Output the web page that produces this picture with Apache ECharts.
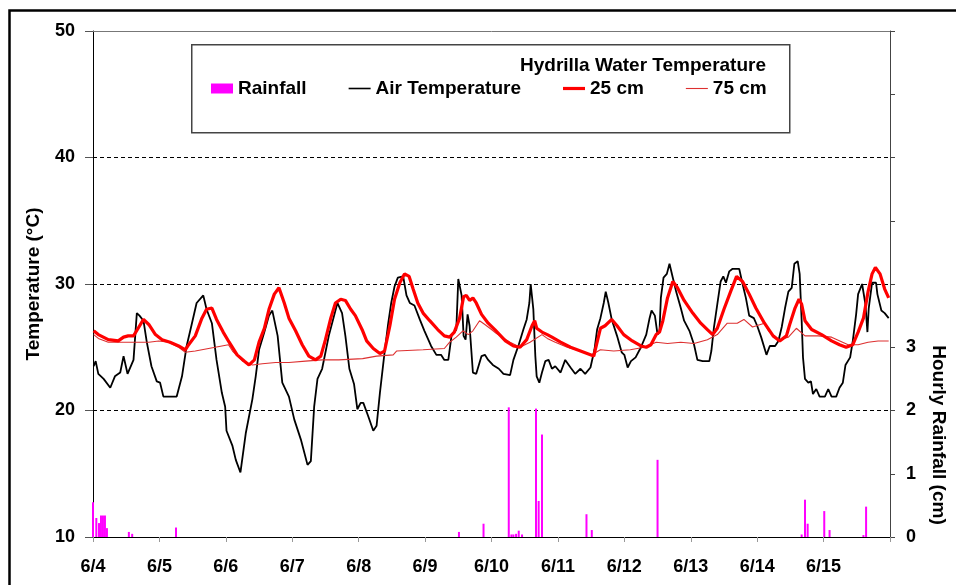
<!DOCTYPE html>
<html>
<head>
<meta charset="utf-8">
<script src="https://cdn.jsdelivr.net/npm/echarts@6/dist/echarts.min.js"></script>
<style>
  html, body { margin: 0; padding: 0; background: #fff; }
  #chart { width: 956px; height: 585px; }
</style>
</head>
<body>
<div id="chart"></div>
<script>
// x = days since 6/4 00:00
var dateLabels = ['6/4', '6/5', '6/6', '6/7', '6/8', '6/9', '6/10', '6/11', '6/12', '6/13', '6/14', '6/15'];

// hourly rainfall (cm)
var rainfall = [
  [0.00, 0.55], [0.05, 0.30], [0.09, 0.22], [0.12, 0.34], [0.15, 0.34], [0.18, 0.34], [0.21, 0.14],
  [0.54, 0.08], [0.59, 0.05], [1.25, 0.15],
  [5.51, 0.08], [5.88, 0.21], [6.26, 2.05], [6.30, 0.04], [6.33, 0.04], [6.37, 0.05], [6.41, 0.10], [6.46, 0.04],
  [6.67, 2.03], [6.71, 0.57], [6.76, 1.62], [7.43, 0.36], [7.51, 0.11],
  [8.50, 1.22], [10.67, 0.04], [10.72, 0.59], [10.76, 0.21], [11.01, 0.41], [11.09, 0.11],
  [11.60, 0.03], [11.64, 0.48]
];

// air temperature (°C)
var airTemp = [
  [0.01, 23.5], [0.04, 23.9], [0.08, 22.9], [0.16, 22.5], [0.26, 21.8], [0.33, 22.7], [0.41, 23.0], [0.46, 24.3],
  [0.52, 22.9], [0.61, 24.0], [0.66, 27.7], [0.70, 27.5], [0.76, 27.1], [0.81, 25.4], [0.88, 23.5], [0.96, 22.3],
  [1.01, 22.2], [1.06, 21.1], [1.26, 21.1], [1.34, 22.7], [1.41, 25.1], [1.49, 26.9], [1.56, 28.5], [1.66, 29.1],
  [1.71, 28.0], [1.79, 26.9], [1.86, 24.0], [1.94, 21.4], [1.99, 20.3], [2.01, 18.4], [2.10, 17.2], [2.15, 16.1],
  [2.22, 15.1], [2.30, 18.2], [2.40, 20.9], [2.45, 22.7], [2.50, 24.8], [2.58, 26.2], [2.65, 27.5], [2.70, 27.9],
  [2.78, 25.9], [2.85, 22.2], [2.95, 21.1], [3.03, 19.3], [3.13, 17.7], [3.23, 15.7], [3.28, 16.0], [3.33, 20.3],
  [3.38, 22.5], [3.45, 23.3], [3.55, 25.9], [3.68, 28.5], [3.75, 27.7], [3.80, 25.9], [3.86, 23.3], [3.93, 22.1],
  [3.98, 20.1], [4.03, 20.6], [4.07, 20.6], [4.14, 19.6], [4.22, 18.4], [4.27, 18.8], [4.32, 21.4], [4.39, 24.6],
  [4.44, 26.7], [4.49, 28.5], [4.54, 29.8], [4.59, 30.5], [4.67, 30.6], [4.72, 29.1], [4.77, 28.5], [4.84, 28.3],
  [4.92, 27.2], [4.99, 26.3], [5.09, 25.1], [5.17, 24.4], [5.24, 24.4], [5.29, 24.0], [5.35, 24.0], [5.40, 26.0],
  [5.47, 26.4], [5.50, 30.4], [5.52, 30.5], [5.55, 29.1], [5.58, 25.9], [5.61, 25.6], [5.64, 27.6], [5.67, 26.7],
  [5.72, 23.0], [5.77, 22.9], [5.85, 24.3], [5.90, 24.4], [5.95, 24.0], [6.02, 23.6], [6.11, 23.3], [6.18, 22.9],
  [6.28, 22.8], [6.33, 24.0], [6.41, 25.2], [6.48, 26.4], [6.53, 27.2], [6.57, 28.5], [6.59, 30.0], [6.62, 30.1],
  [6.63, 28.0], [6.66, 24.3], [6.68, 22.7], [6.72, 22.2], [6.76, 23.0], [6.81, 23.9], [6.86, 24.0], [6.91, 23.3],
  [6.96, 23.5], [7.04, 23.0], [7.11, 24.0], [7.19, 23.4], [7.26, 22.9], [7.34, 23.3], [7.41, 22.9], [7.49, 23.4],
  [7.52, 23.4], [7.55, 24.8], [7.59, 26.4], [7.64, 27.3], [7.69, 28.5], [7.72, 29.4], [7.76, 28.5], [7.81, 27.2],
  [7.89, 25.9], [7.96, 24.6], [8.00, 24.4], [8.05, 23.4], [8.10, 23.9], [8.17, 24.2], [8.25, 25.0], [8.33, 26.0],
  [8.38, 27.3], [8.41, 27.9], [8.46, 27.5], [8.50, 26.0], [8.53, 26.3], [8.55, 28.9], [8.59, 30.5], [8.64, 30.8],
  [8.68, 31.6], [8.73, 30.5], [8.78, 29.4], [8.85, 28.1], [8.90, 27.1], [8.98, 26.3], [9.05, 25.2], [9.10, 24.0],
  [9.18, 23.9], [9.28, 23.9], [9.31, 24.7], [9.35, 26.6], [9.40, 28.4], [9.45, 30.2], [9.49, 30.6], [9.53, 30.1],
  [9.58, 31.0], [9.63, 31.2], [9.73, 31.2], [9.78, 30.0], [9.83, 28.9], [9.88, 27.5], [9.95, 27.3], [10.00, 26.7],
  [10.06, 25.8], [10.14, 24.4], [10.19, 25.1], [10.27, 25.1], [10.32, 25.5], [10.37, 26.6], [10.42, 28.1], [10.47, 29.4],
  [10.52, 29.7], [10.56, 31.6], [10.61, 31.8], [10.64, 30.8], [10.67, 27.1], [10.69, 24.2], [10.72, 22.5], [10.77, 22.2],
  [10.81, 22.3], [10.84, 21.3], [10.89, 21.7], [10.94, 21.1], [11.02, 21.1], [11.07, 21.7], [11.12, 21.1], [11.19, 21.1],
  [11.24, 21.8], [11.29, 22.2], [11.33, 23.6], [11.40, 24.2], [11.44, 25.5], [11.49, 27.6], [11.52, 29.2], [11.58, 30.0],
  [11.61, 30.1], [11.63, 28.4], [11.66, 26.2], [11.68, 28.1], [11.72, 29.7], [11.73, 30.1], [11.79, 30.1], [11.81, 29.2],
  [11.87, 27.9], [11.92, 27.7], [11.98, 27.3]
];

// hydrilla water temperature at 25 cm (°C)
var water25 = [
  [0.01, 26.3], [0.08, 26.0], [0.23, 25.6], [0.38, 25.5], [0.46, 25.8], [0.53, 25.9], [0.61, 25.9], [0.68, 26.5],
  [0.76, 27.2], [0.84, 26.8], [0.94, 26.0], [1.04, 25.6], [1.16, 25.4], [1.29, 25.1], [1.39, 24.8], [1.44, 25.2],
  [1.54, 25.9], [1.64, 27.3], [1.71, 28.0], [1.79, 28.1], [1.86, 27.2], [1.96, 26.2], [2.05, 25.4], [2.17, 24.4],
  [2.28, 23.9], [2.35, 23.6], [2.43, 24.0], [2.50, 25.4], [2.58, 26.5], [2.65, 28.0], [2.73, 29.2], [2.80, 29.7],
  [2.88, 28.5], [2.95, 27.3], [3.05, 26.3], [3.15, 25.2], [3.25, 24.3], [3.35, 24.0], [3.43, 24.3], [3.50, 25.6],
  [3.58, 27.3], [3.65, 28.5], [3.73, 28.8], [3.80, 28.7], [3.88, 28.0], [3.95, 27.5], [4.06, 26.3], [4.12, 25.5],
  [4.22, 24.9], [4.32, 24.5], [4.39, 24.7], [4.47, 26.7], [4.54, 28.8], [4.62, 30.1], [4.69, 30.8], [4.76, 30.6],
  [4.82, 29.6], [4.89, 28.5], [4.97, 27.7], [5.07, 27.1], [5.19, 26.4], [5.29, 25.9], [5.37, 25.8], [5.44, 26.2],
  [5.52, 27.3], [5.58, 29.0], [5.62, 29.1], [5.67, 28.7], [5.72, 28.9], [5.77, 28.5], [5.85, 27.6], [5.95, 26.9],
  [6.05, 26.4], [6.21, 25.5], [6.33, 25.1], [6.43, 25.0], [6.53, 25.6], [6.61, 26.7], [6.65, 27.1], [6.68, 26.5],
  [6.76, 26.2], [6.84, 26.0], [6.91, 25.8], [7.04, 25.4], [7.19, 25.0], [7.34, 24.7], [7.49, 24.4], [7.54, 24.3],
  [7.59, 25.4], [7.64, 26.5], [7.71, 26.7], [7.81, 27.2], [7.89, 26.7], [7.99, 26.0], [8.12, 25.5], [8.25, 25.1],
  [8.33, 25.0], [8.40, 25.2], [8.48, 26.0], [8.53, 26.2], [8.58, 27.1], [8.65, 28.9], [8.73, 30.2], [8.80, 29.7],
  [8.90, 28.7], [9.03, 27.7], [9.15, 26.9], [9.25, 26.4], [9.33, 26.0], [9.40, 26.5], [9.50, 28.0], [9.60, 29.4],
  [9.69, 30.6], [9.78, 30.2], [9.88, 29.2], [9.98, 28.1], [10.11, 26.9], [10.24, 25.9], [10.34, 25.5], [10.44, 25.9],
  [10.49, 26.8], [10.57, 28.1], [10.63, 28.8], [10.67, 28.4], [10.72, 27.1], [10.82, 26.4], [10.97, 26.0], [11.12, 25.5],
  [11.24, 25.2], [11.34, 25.0], [11.44, 25.2], [11.52, 26.2], [11.60, 27.3], [11.67, 29.4], [11.73, 30.8], [11.78, 31.3],
  [11.85, 30.8], [11.92, 29.6], [11.98, 28.9]
];

// hydrilla water temperature at 75 cm (°C)
var water75 = [
  [0.01, 26.0], [0.08, 25.7], [0.23, 25.4], [0.43, 25.4], [0.64, 25.4], [0.84, 25.4], [0.99, 25.5], [1.14, 25.4],
  [1.29, 25.0], [1.39, 24.6], [1.54, 24.7], [1.74, 24.9], [1.94, 25.1], [2.04, 25.2], [2.10, 24.7], [2.25, 23.9],
  [2.40, 23.6], [2.55, 23.7], [2.75, 23.8], [2.95, 23.8], [3.20, 23.9], [3.45, 24.0], [3.70, 24.0], [4.06, 24.1],
  [4.27, 24.3], [4.52, 24.4], [4.57, 24.7], [4.97, 24.8], [5.29, 24.9], [5.37, 25.4], [5.47, 25.8], [5.57, 26.3],
  [5.65, 26.0], [5.72, 26.3], [5.82, 27.1], [5.90, 26.8], [6.00, 26.4], [6.07, 26.1], [6.13, 25.9], [6.28, 25.4],
  [6.43, 25.0], [6.58, 25.4], [6.76, 26.0], [6.84, 25.7], [6.96, 25.4], [7.14, 25.0], [7.34, 24.7], [7.51, 24.4],
  [7.64, 24.8], [7.84, 24.7], [8.09, 24.8], [8.30, 25.0], [8.48, 25.4], [8.65, 25.3], [8.85, 25.4], [9.05, 25.3],
  [9.25, 25.6], [9.40, 26.0], [9.55, 26.9], [9.70, 26.9], [9.80, 27.2], [9.93, 26.6], [10.11, 26.9], [10.17, 26.3],
  [10.32, 25.6], [10.47, 25.8], [10.59, 26.5], [10.72, 25.9], [10.92, 25.9], [11.12, 25.8], [11.37, 25.2], [11.52, 25.2],
  [11.67, 25.4], [11.82, 25.5], [11.98, 25.5]
];

var chartFont = '"Liberation Sans", Arial, sans-serif';
var myChart = echarts.init(document.getElementById('chart'));

var option = {
  animation: false,
  backgroundColor: '#fff',
  textStyle: { fontFamily: chartFont },
  grid: { left: 93, right: 66, top: 31, bottom: 48 },
  graphic: [
    // outer frame
    { type: 'rect', left: 7, top: 8, shape: { width: 1000, height: 600 },
      style: { fill: 'none', stroke: '#000', lineWidth: 2.5 }, silent: true },
    // legend box
    { type: 'rect', left: 191, top: 44, shape: { width: 598, height: 88 },
      style: { fill: '#fff', stroke: '#444', lineWidth: 1.5 }, z: 1, silent: true },
    { type: 'text', x: 766, y: 66, z: 2,
      style: { text: 'Hydrilla Water Temperature', fill: '#000', font: 'bold 19px ' + chartFont,
               align: 'right', verticalAlign: 'middle' } },
    { type: 'text', x: 938, y: 435, rotation: -Math.PI / 2, z: 2,
      style: { text: 'Hourly Rainfall (cm)', fill: '#000', font: 'bold 19px ' + chartFont,
               align: 'center', verticalAlign: 'middle' } }
  ],
  legend: {
    left: 206,
    top: 74,
    itemWidth: 22,
    itemHeight: 10,
    itemGap: 42,
    z: 5,
    itemStyle: { borderWidth: 0 },
    textStyle: { fontSize: 19, fontWeight: 'bold', color: '#000', fontFamily: chartFont },
    data: [
      { name: 'Rainfall', icon: 'rect' },
      { name: 'Air Temperature', icon: 'path://M0,0H22V1.6H0Z' },
      { name: '25 cm', icon: 'path://M0,0H22V3.2H0Z' },
      { name: '75 cm', icon: 'path://M0,0H22V1.1H0Z' }
    ]
  },
  xAxis: [{
    type: 'value',
    min: 0,
    max: 12,
    interval: 1,
    axisLine: { onZero: false, lineStyle: { color: '#000', width: 1 } },
    axisTick: { show: true, length: 5, lineStyle: { color: '#999' } },
    axisLabel: {
      margin: 21,
      fontSize: 18,
      fontWeight: 'bold',
      color: '#000',
      formatter: function (v) { return dateLabels[v] || ''; }
    },
    splitLine: { show: false }
  }, {
    type: 'value',
    position: 'top',
    min: 0,
    max: 12,
    axisLine: { show: true, onZero: false, lineStyle: { color: '#777', width: 1 } },
    axisTick: { show: false },
    axisLabel: { show: false },
    splitLine: { show: false }
  }],
  yAxis: [{
    type: 'value',
    position: 'left',
    min: 10,
    max: 50,
    interval: 10,
    name: 'Temperature (°C)',
    nameLocation: 'middle',
    nameGap: 50,
    nameTextStyle: { fontSize: 19, fontWeight: 'bold', color: '#000' },
    axisLine: { show: true, onZero: false, lineStyle: { color: '#000', width: 1 } },
    axisTick: { show: true, length: 8, lineStyle: { color: '#555' } },
    axisLabel: { margin: 18, fontSize: 18, fontWeight: 'bold', color: '#000' },
    splitLine: { show: true, lineStyle: { color: '#000', width: 1, type: [4, 3] } }
  }, {
    type: 'value',
    position: 'right',
    min: 0,
    max: 8,
    interval: 1,
    axisLine: { show: true, onZero: false, lineStyle: { color: '#444', width: 1 } },
    axisTick: { show: true, length: 5, lineStyle: { color: '#444' } },
    axisLabel: {
      margin: 16,
      fontSize: 18,
      fontWeight: 'bold',
      color: '#000',
      formatter: function (v) { return v <= 3 ? String(v) : ''; }
    },
    splitLine: { show: false }
  }],
  series: [{
    name: 'Rainfall',
    type: 'bar',
    yAxisIndex: 1,
    barWidth: 2,
    itemStyle: { color: '#ff00ff' },
    data: rainfall
  }, {
    name: 'Air Temperature',
    type: 'line',
    symbol: 'none',
    lineStyle: { color: '#000', width: 1.8 },
    itemStyle: { color: '#000' },
    data: airTemp
  }, {
    name: '75 cm',
    type: 'line',
    symbol: 'none',
    lineStyle: { color: '#dd3030', width: 1.1 },
    itemStyle: { color: '#dd3030' },
    data: water75
  }, {
    name: '25 cm',
    type: 'line',
    symbol: 'none',
    lineStyle: { color: '#ff0000', width: 3.2 },
    itemStyle: { color: '#ff0000' },
    data: water25
  }]
};

myChart.setOption(option);
window.addEventListener('resize', function () {
  myChart.resize();
});
</script>
</body>
</html>
